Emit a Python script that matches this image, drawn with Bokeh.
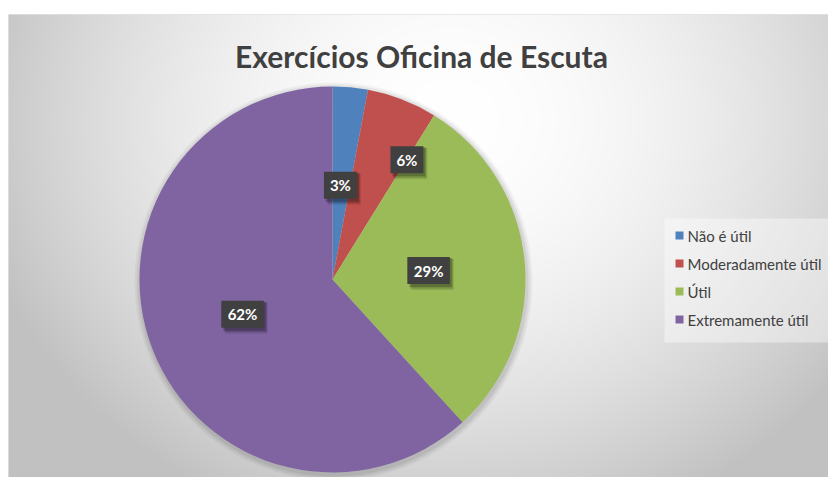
import numpy as np
from bokeh.plotting import figure
from bokeh.models import Range1d, Label, ColumnDataSource
from bokeh.core.properties import value
from bokeh.embed import file_html
from bokeh.resources import INLINE

# ---- data ----
title = "Exercícios Oficina de Escuta"
categories = ["Não é útil", "Moderadamente útil", "Útil", "Extremamente útil"]
counts = [1, 2, 10, 21]
colors = ["#4F81BD", "#C0504D", "#9BBB59", "#8064A2"]

# ---- layout (screen px of the page) ----
X0, X1, Y0, Y1 = 8, 828, 14, 477
W, H = X1 - X0, Y1 - Y0
def sy(y):
    return Y1 - y

p = figure(width=X1, height=Y1, output_backend="svg", toolbar_location=None,
           x_range=Range1d(X0, X1), y_range=Range1d(0, H),
           x_axis_location=None, y_axis_location=None,
           min_border_left=X0, min_border_right=0, min_border_bottom=0, min_border_top=Y0)
p.grid.visible = False
p.outline_line_color = None
p.border_fill_color = "white"
p.background_fill_color = "#c8c8c8"

# background radial gradient
xs = np.arange(X0, X1) + 0.5
ys = np.arange(Y0, Y1) + 0.5
gx, gy = np.meshgrid(xs, ys)
t = np.sqrt(((gx - 450) / 480.0) ** 2 + ((gy - 120) / 420.0) ** 2)
g = np.clip(255 - 60 * t ** 1.8, 193, 255).astype(np.uint32)
img = (255 << 24) | (g << 16) | (g << 8) | g
img = img[::-1].copy()
p.image_rgba(image=[img.view(np.uint32)], x=X0, y=0, dw=W, dh=H)

# pie
cx, cy, R = 332, sy(279), 193
total = float(sum(counts))
frac = np.array(counts) / total
cum = np.concatenate([[0], np.cumsum(frac)])
start = np.pi / 2 - 2 * np.pi * cum[1:]
end = np.pi / 2 - 2 * np.pi * cum[:-1]

# soft shadow behind pie
for k, a in [(6, 0.04), (4, 0.05), (2, 0.06)]:
    p.circle(x=cx + 1, y=cy - 2, radius=R + k, fill_color="black", fill_alpha=a, line_color=None)

src = ColumnDataSource(dict(start=start, end=end, color=colors, cat=categories))
p.wedge(x=cx, y=cy, radius=R, start_angle="start", end_angle="end", direction="anticlock",
        fill_color="color", line_color=None, source=src)

# data labels
labels = ["%d%%" % round(f * 100) for f in frac]
mid = 2 * np.pi * (cum[:-1] + cum[1:]) / 2
label_r = [0.49, 0.73, 0.50, 0.50]
label_dtheta = np.radians([-0.5, 10.7, 0, 0])
th = mid + label_dtheta
lx = cx + np.array(label_r) * R * np.sin(th)
ly = cy + np.array(label_r) * R * np.cos(th)
bw = [14 + 9.5 * len(s) for s in labels]
lsrc = ColumnDataSource(dict(x=lx, y=ly, t=labels, w=bw))
for k, a in [(4, 0.10), (3, 0.15), (2, 0.2)]:
    p.rect(x=lx + k, y=ly - k, width=bw, height=27 + k, width_units="screen", height_units="screen",
           fill_color="black", fill_alpha=a, line_color=None)
p.rect(x="x", y="y", width="w", height=27, width_units="screen", height_units="screen",
       fill_color="#404040", line_color=None, source=lsrc)
p.text(x="x", y="y", text="t", source=lsrc, text_color="white", text_font=value("Lato"),
       text_font_style="bold", text_font_size="15px", text_align="center", text_baseline="middle")

# title
p.add_layout(Label(x=421, y=sy(55), text=title, text_align="center", text_baseline="alphabetic",
                   text_font="Lato", text_font_style="bold", text_font_size="30px",
                   text_color="#404040"))

# legend
p.quad(left=664, right=X1, bottom=sy(342), top=sy(218), fill_color="white", fill_alpha=0.4,
       line_color=None)
rows = [sy(235 + 28 * i) for i in range(len(categories))]
gsrc = ColumnDataSource(dict(y=rows, c=colors, t=categories))
p.rect(x=679, y="y", width=8, height=8, width_units="screen", height_units="screen",
       fill_color="c", line_color=None, source=gsrc)
p.text(x=687, y="y", text="t", source=gsrc, text_color="#404040", text_font=value("Lato"),
       text_font_size="15px", text_align="left", text_baseline="middle")

open("out.html", "w").write(file_html(p, INLINE))
